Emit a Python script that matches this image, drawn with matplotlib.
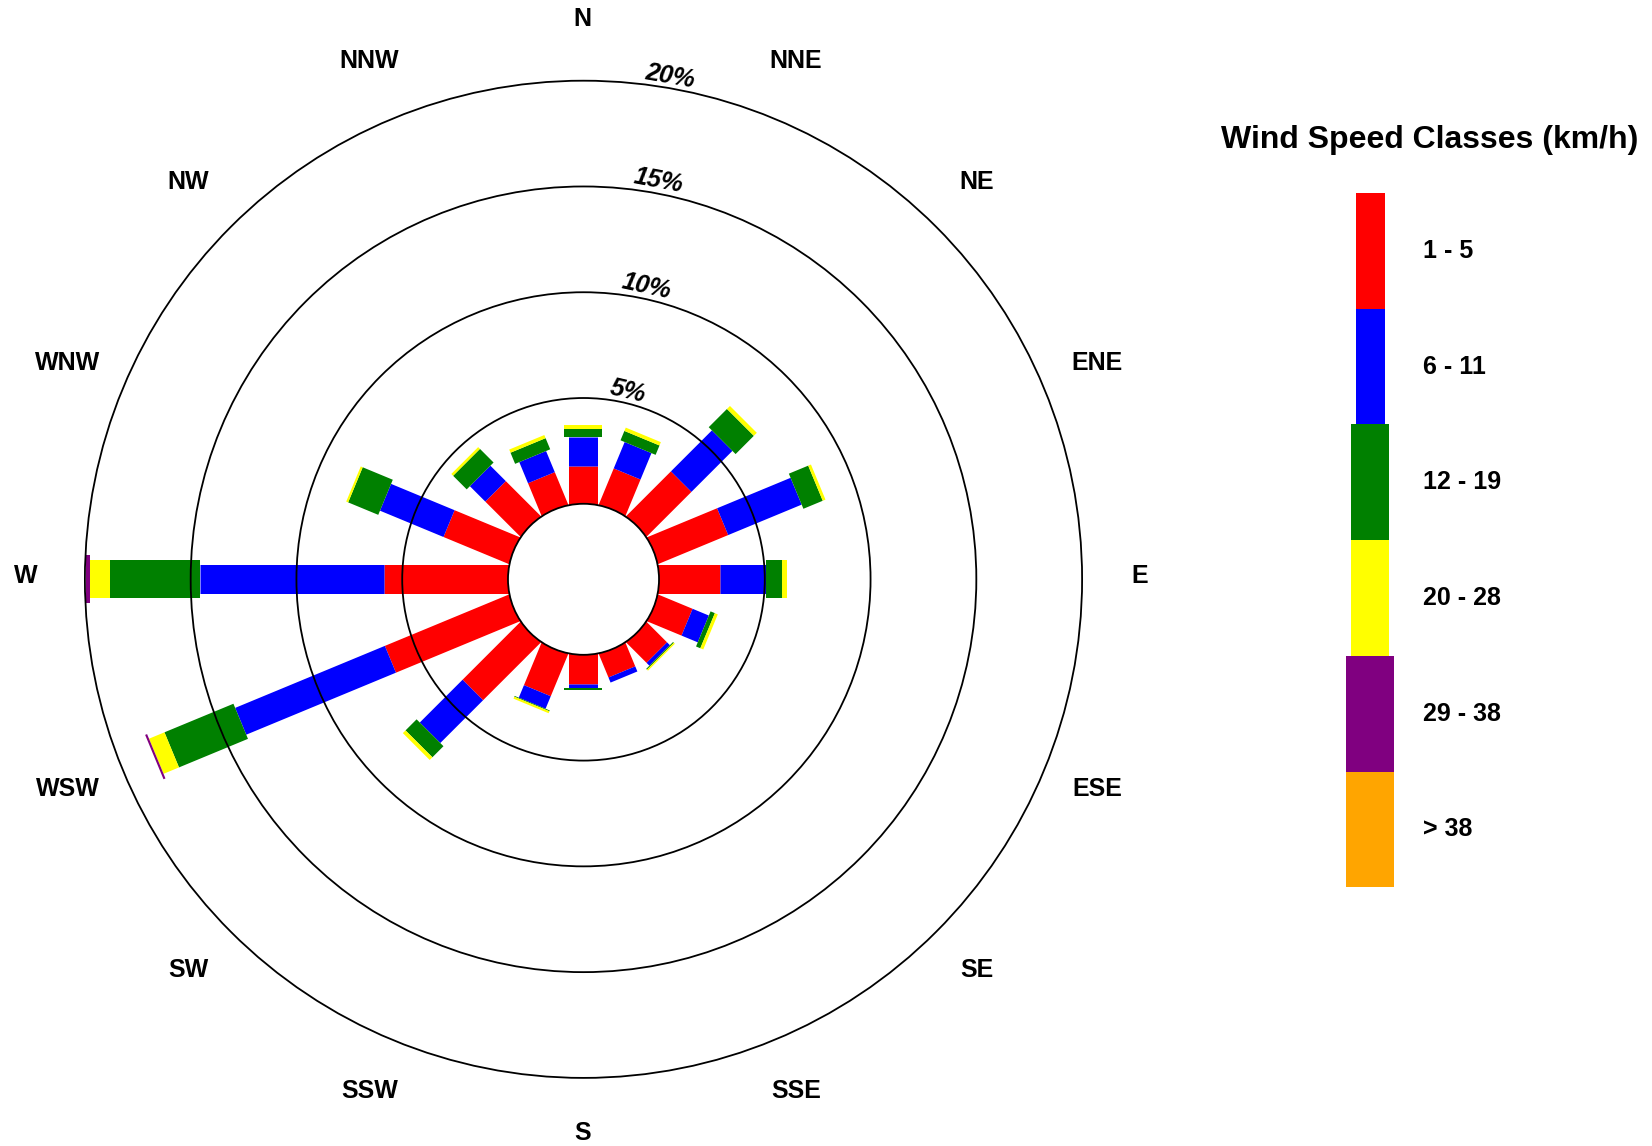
import numpy as np
import matplotlib.pyplot as plt
from matplotlib.patches import Rectangle, Circle
from matplotlib.transforms import offset_copy

plt.rcParams['font.family'] = ['Liberation Sans', 'DejaVu Sans']

# wind directions (clockwise from north) and speed classes
directions = ['N', 'NNE', 'NE', 'ENE', 'E', 'ESE', 'SE', 'SSE',
              'S', 'SSW', 'SW', 'WSW', 'W', 'WNW', 'NW', 'NNW']
speed_classes = ['1 - 5', '6 - 11', '12 - 19', '20 - 28', '29 - 38', '> 38']
class_colors = ['#ff0000', '#0000ff', '#008000', '#ffff00', '#800080', '#ffa500']

# frequency (%) per direction for each speed class
freq_1_5 = [1.80, 1.82, 2.96, 3.55, 2.87, 1.73, 1.33, 1.17,
            1.36, 2.13, 3.83, 6.31, 5.84, 3.31, 2.31, 1.63]
freq_6_11 = [1.34, 1.35, 2.74, 3.76, 2.21, 0.83, 0.19, 0.26,
             0.20, 0.64, 2.86, 7.66, 8.72, 3.25, 1.03, 1.08]
freq_12_19 = [0.41, 0.48, 1.22, 0.99, 0.74, 0.22, 0.05, 0.00,
              0.10, 0.04, 0.74, 3.53, 4.23, 1.54, 0.91, 0.57]
freq_20_28 = [0.19, 0.17, 0.20, 0.14, 0.24, 0.15, 0.07, 0.00,
              0.00, 0.10, 0.18, 0.79, 0.98, 0.10, 0.12, 0.16]
freq_29_38 = [0, 0, 0, 0, 0, 0, 0, 0, 0, 0, 0, 0.10, 0.18, 0, 0, 0]
freq_over_38 = [0] * 16

ring_ticks = [5, 10, 15, 20]

W, H = 1652, 1146
fig = plt.figure(figsize=(W / 100, H / 100), dpi=100)

# polar axes placed so the 20% ring sits where the reference has it
cx, cy, R = 583.5, 579.3, 498.6
ax = fig.add_axes([(cx - R) / W, (H - cy - R) / H, 2 * R / W, 2 * R / H],
                  projection='polar')
ax.set_theta_zero_location('N')
ax.set_theta_direction(-1)
ax.set_ylim(0, 20)
ax.set_rorigin(-3.57)
ax.axis('off')

stack = np.array([freq_1_5, freq_6_11, freq_12_19, freq_20_28,
                  freq_29_38, freq_over_38]).T
theta = np.deg2rad(np.arange(len(directions)) * 360.0 / len(directions))
bar_px = [29, 29, 38, 38, 48, 48]

for i, th in enumerate(theta):
    base = 0.0
    for k in range(stack.shape[1]):
        v = stack[i, k]
        if v <= 0:
            continue
        start = base if base > 0 else -0.5
        ax.plot([th, th], [start, base + v], color=class_colors[k],
                lw=bar_px[k] * 0.72, solid_capstyle='butt',
                clip_on=False, zorder=2)
        base += v

# ring labels
label_ang = [13.3, 12.2, 10.65, 9.8]
for t, a in zip(ring_ticks, label_ang):
    ax.text(np.deg2rad(a), t + 0.58, '%d%%' % t, rotation=-a,
            rotation_mode='anchor', ha='center', va='center',
            fontsize=18, fontweight='bold', fontstyle='italic', zorder=6)

# direction labels
lab_tr = offset_copy(ax.transData, fig=fig, x=-0.6, y=2.5, units='points')
for th, d in zip(theta, directions):
    ax.text(th, 22.77, d, ha='center', va='center', transform=lab_tr,
            fontsize=18, fontweight='bold')

# overlay axes in pixel coordinates: rings, calm circle and legend
lax = fig.add_axes([0, 0, 1, 1])
lax.set_xlim(0, W)
lax.set_ylim(H, 0)
lax.axis('off')

fig.canvas.draw()
ctr = ax.transAxes.transform((0.5, 0.5))
ctr_px = lax.transData.inverted().transform(ctr)
for r in [0] + ring_ticks:
    edge = ax.transData.transform((0, r))
    rad = np.hypot(*(edge - ctr))
    lax.add_patch(Circle(ctr_px, rad, facecolor='white' if r == 0 else 'none',
                         edgecolor='black', lw=1.3, zorder=5 - (r == 0)))

lax.text(1430, 140, 'Wind Speed Classes (km/h)', ha='center', va='center',
         fontsize=23, fontweight='bold')
top0, step, xc = 193, 115.7, 1370
for k, (lab, col) in enumerate(zip(speed_classes, class_colors)):
    w = bar_px[k]
    top = top0 + k * step
    lax.add_patch(Rectangle((xc - w / 2, top), w, step, color=col, lw=0))
    lax.text(1423, top + step / 2, lab, ha='left', va='center',
             fontsize=18, fontweight='bold')

plt.savefig('out.png', dpi=100)
